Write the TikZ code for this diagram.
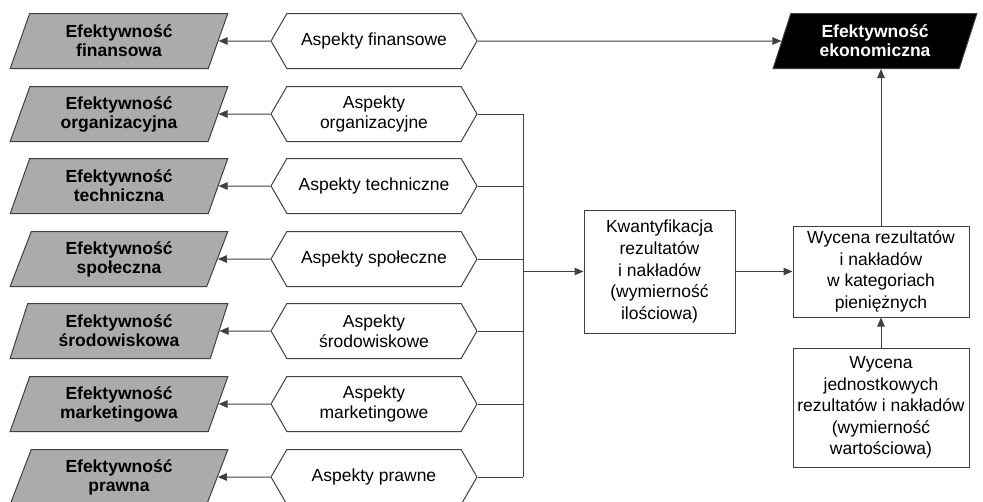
\documentclass[tikz,border=0pt]{standalone}
\usepackage{fontspec}
\setmainfont{Liberation Sans}
\usetikzlibrary{shapes.geometric,shapes.symbols,arrows.meta}
\definecolor{edge}{HTML}{404040}
\definecolor{parafill}{HTML}{ABABAB}
\tikzset{
  x=1pt, y=-1pt,
  conn/.style={draw=edge, line width=1pt},
  arr/.style={conn, -{Triangle[length=9pt,width=7.5pt]}},
  effbox/.style={trapezium, trapezium left angle=70, trapezium right angle=110,
    trapezium stretches=true, minimum width=218pt, minimum height=55pt,
    inner sep=0pt, draw=edge, line width=1pt, fill=parafill, align=center,
    font=\fontsize{17.5}{19}\selectfont\bfseries},
  ecobox/.style={effbox, fill=black, text=white, minimum width=204pt},
  aspect/.style={signal, signal to=east and west, signal pointer angle=120,
    minimum width=206pt, minimum height=55pt, inner sep=0pt, draw=edge,
    line width=1pt, fill=white, align=center,
    font=\fontsize{17.5}{20}\selectfont},
  procbox/.style={rectangle, draw=edge, line width=1pt, fill=white, align=center,
    inner sep=0pt, font=\fontsize{17.5}{21.6}\selectfont}
}
\begin{document}
\begin{tikzpicture}
\useasboundingbox (0,0) rectangle (983,501);

% efficiency categories (left column)
\node[effbox] (ef1) at (119,41)  {Efektywność\\finansowa};
\node[effbox] (ef2) at (119,114) {Efektywność\\organizacyjna};
\node[effbox] (ef3) at (119,186) {Efektywność\\techniczna};
\node[effbox] (ef4) at (119,259) {Efektywność\\społeczna};
\node[effbox] (ef5) at (119,331) {Efektywność\\środowiskowa};
\node[effbox] (ef6) at (119,404) {Efektywność\\marketingowa};
\node[effbox] (ef7) at (119,477) {Efektywność\\prawna};

% aspects (middle column)
\node[aspect] (as1) at (374,41)  {Aspekty finansowe};
\node[aspect] (as2) at (374,114) {Aspekty\\organizacyjne};
\node[aspect] (as3) at (374,186) {Aspekty techniczne};
\node[aspect] (as4) at (374,259) {Aspekty społeczne};
\node[aspect] (as5) at (374,331) {Aspekty\\środowiskowe};
\node[aspect] (as6) at (374,404) {Aspekty\\marketingowe};
\node[aspect] (as7) at (374,477) {Aspekty prawne};

% economic efficiency and valuation chain
\node[ecobox] (eco) at (875,41) {Efektywność\\ekonomiczna};
\node[procbox, minimum width=151pt, minimum height=123pt] (kw) at (659.5,271.5)
  {Kwantyfikacja\\rezultatów\\i nakładów\\(wymierność\\ilościowa)};
\node[procbox, minimum width=176pt, minimum height=91pt] (wr) at (881,271.5)
  {Wycena rezultatów\\i nakładów\\w kategoriach\\pieniężnych};
\node[procbox, minimum width=176pt, minimum height=119pt] (wj) at (881,407.5)
  {Wycena\\jednostkowych\\rezultatów i nakładów\\(wymierność\\wartościowa)};

% collecting bus on the right of the aspects
\coordinate (busT) at (523,114);
\coordinate (busB) at (523,477);
\coordinate (busM) at (523,271.5);

% aspect -> efficiency arrows
\foreach \i in {1,...,7}{
  \draw[arr] (as\i.west) -- (ef\i.east);
}
% aspects feeding the bus
\foreach \i in {2,...,7}{
  \draw[conn] (as\i.east) -- (as\i.east -| busT);
}
\draw[conn] (busT) -- (busB);
\draw[arr] (busM) -- (kw.west);
\draw[arr] (as1.east) -- (eco.west);
\draw[arr] (kw.east) -- (wr.west);
\draw[arr] (wj.north) -- (wr.south);
\draw[arr] (wr.north) -- (wr.north |- eco.south);
\end{tikzpicture}
\end{document}
